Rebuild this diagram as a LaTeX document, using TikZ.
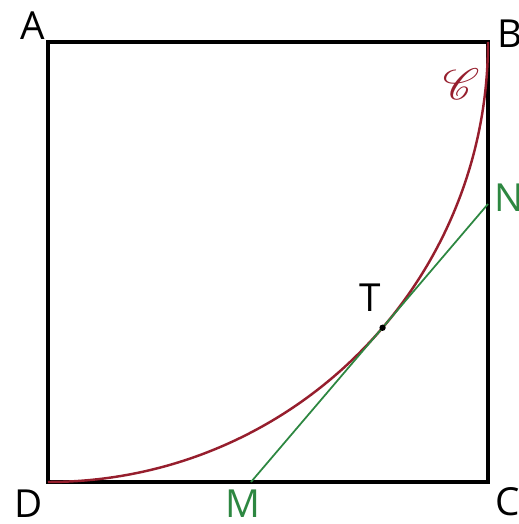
\documentclass[tikz,border=0pt]{standalone}
\usepackage{fontspec}
\setmainfont{Open Sans}
\usepackage{mathrsfs}
\usetikzlibrary{positioning, calc}
\definecolor{arcred}{RGB}{150,30,45}
\definecolor{tangreen}{RGB}{45,135,65}
\tikzset{
  side/.style={draw, line width=1.8pt, line join=miter},
  curve/.style={draw=arcred, line width=1.4pt},
  tangent/.style={draw=tangreen, line width=1pt},
  lbl/.style={inner sep=0pt, font=\fontsize{22}{26}\selectfont},
}

\begin{document}
\begin{tikzpicture}[x=0.02cm, y=0.02cm]
    \useasboundingbox (0,0) rectangle (518,524);
    \coordinate (A) at (48,482);
    \coordinate (B) at (488,482);
    \coordinate (C) at (488,42);
    \coordinate (D) at (48,42);
    \coordinate (T) at ($(A)+(-40.5:440)$);
    \coordinate (M) at (251,42);
    \coordinate (N) at (488,320);
    \draw[side] (A) -- (B) -- (C) -- (D) -- cycle;
    \draw[curve] (D) arc[start angle=-90, end angle=0, radius=440];
    \draw[tangent] (M) -- (N);
    \fill (T) circle[radius=1.8pt];
    % labels
    \node[lbl] (lA) at (33,498) {A};
    \node[lbl] (lB) at (510,490) {B};
    \node[lbl] (lC) at (508,22) {C};
    \node[lbl] (lD) at (29,20) {D};
    \node[lbl, text=tangreen] (lM) at (243,20) {M};
    \node[lbl, text=tangreen] (lN) at (509,326) {N};
    \node[lbl] (lT) at (370,226) {T};
    \node[lbl, text=arcred, font=\fontsize{26}{30}\selectfont] (lCurve) at (461,440) {$\mathscr{C}$};
\end{tikzpicture}
\end{document}
